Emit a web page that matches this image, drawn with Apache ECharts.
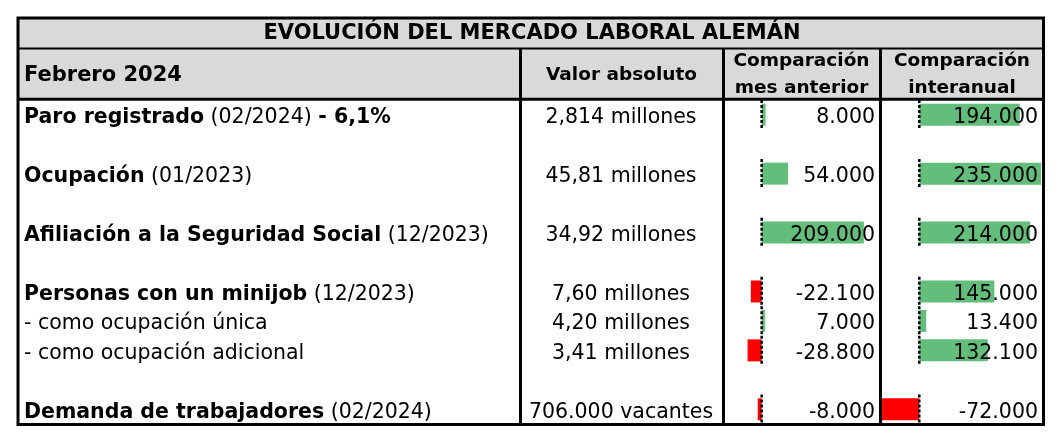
<!DOCTYPE html>
<html>
<head>
<meta charset="utf-8">
<title>Evolución del mercado laboral alemán</title>
<script src="https://cdn.jsdelivr.net/npm/echarts@6/dist/echarts.min.js"></script>
<style>
  html, body { margin: 0; padding: 0; background: #fff; }
  #chart { width: 1062px; height: 445px; }
</style>
</head>
<body>
<div id="chart"></div>
<script>
const tableTitle = 'EVOLUCIÓN DEL MERCADO LABORAL ALEMÁN';
const periodLabel = 'Febrero 2024';
const columnHeaders = ['Valor absoluto', 'Comparación\nmes anterior', 'Comparación\ninteranual'];

// one entry per table row, null = empty spacer row
const rowLabels = ['Paro registrado', null, 'Ocupación', null, 'Afiliación a la Seguridad Social', null,
  'Personas con un minijob', '- como ocupación única', '- como ocupación adicional', null, 'Demanda de trabajadores'];
const rowPeriods = ['(02/2024)', null, '(01/2023)', null, '(12/2023)', null, '(12/2023)', null, null, null, '(02/2024)'];
const rowNotes = ['- 6,1%', null, null, null, null, null, null, null, null, null, null];
const absoluteValues = ['2,814 millones', null, '45,81 millones', null, '34,92 millones', null,
  '7,60 millones', '4,20 millones', '3,41 millones', null, '706.000 vacantes'];
const monthChange = [8000, null, 54000, null, 209000, null, -22100, 7000, -28800, null, -8000];
const yearChange = [194000, null, 235000, null, 214000, null, 145000, 13400, 132100, null, -72000];

const FONT = '"DejaVu Sans", Verdana, sans-serif';
const GREEN = '#63BE7B';
const RED = '#FF0000';

const rowKeys = rowLabels.map((_, i) => 'r' + i);

const fmtNum = v => (v < 0 ? '-' : '') + String(Math.abs(v)).replace(/\B(?=(\d{3})+(?!\d))/g, '.');

const chart = echarts.init(document.getElementById('chart'));

const gridBase = { top: 100, bottom: 21 };
const hiddenX = (idx, min, max) => ({
  type: 'value', gridIndex: idx, min, max, show: false
});
const baseY = idx => ({
  type: 'category', gridIndex: idx, data: rowKeys, inverse: true,
  axisLine: { show: false }, axisTick: { show: false }, splitLine: { show: false }
});
// text sits a little below the bar centre, like Excel's bottom aligned cells
const labelStyle = { fontSize: 20.5, fontFamily: FONT, color: '#000', interval: 0, padding: [6, 0, 0, 0] };
const richText = {
  b: { fontSize: 20.5, fontFamily: FONT, fontWeight: 'bold', color: '#000' },
  n: { fontSize: 20.5, fontFamily: FONT, color: '#000' }
};
const plain = s => (s ? '{n|' + s + '}' : '');

const axisMarker = (values, idx) => ({
  type: 'custom',
  xAxisIndex: idx,
  yAxisIndex: idx,
  z: 5,
  data: values.map((v, i) => (v === null ? null : [0, i])).filter(d => d),
  encode: { x: 0, y: 1 },
  renderItem: (params, api) => {
    const p = api.coord([0, api.value(1)]);
    const h = api.size([0, 1])[1];
    return {
      type: 'line',
      shape: { x1: p[0], y1: p[1] - h / 2, x2: p[0], y2: p[1] + h / 2 },
      style: { stroke: '#000', lineWidth: 2.5, lineDash: [3, 2] }
    };
  }
});

const changeBars = (values, idx) => ({
  type: 'bar',
  xAxisIndex: idx,
  yAxisIndex: idx,
  barWidth: 22,
  data: values.map(v => (v === null ? null : {
    value: v,
    itemStyle: { color: v < 0 ? RED : GREEN }
  }))
});

const headerCenters = [621.5, 801.5, 962];

chart.setOption({
  animation: false,
  backgroundColor: '#fff',
  grid: [
    { ...gridBase, left: 19, width: 501 },
    { ...gridBase, left: 522, width: 201 },
    { ...gridBase, left: 725, width: 154 },
    { ...gridBase, left: 882, width: 159 }
  ],
  xAxis: [
    hiddenX(0, -1, 1),
    hiddenX(1, -1, 1),
    hiddenX(2, -75000, 240000),
    hiddenX(3, -72000, 235000)
  ],
  yAxis: [
    {
      ...baseY(0), position: 'left', z: 10,
      axisLabel: {
        ...labelStyle, inside: true, margin: 5, rich: richText,
        formatter: (v, i) => {
          const label = rowLabels[i];
          if (!label) return '';
          if (!rowPeriods[i]) return plain(label);
          let s = '{b|' + label + '} {n|' + rowPeriods[i] + '}';
          if (rowNotes[i]) s += ' {b|' + rowNotes[i] + '}';
          return s;
        }
      }
    },
    {
      ...baseY(1), position: 'left', z: 10,
      axisLabel: {
        ...labelStyle, inside: true, margin: 99, align: 'center', rich: richText,
        formatter: (v, i) => plain(absoluteValues[i])
      }
    },
    {
      ...baseY(2), position: 'right', z: 10,
      axisLabel: {
        ...labelStyle, inside: true, margin: 4, rich: richText,
        formatter: (v, i) => (monthChange[i] === null ? '' : plain(fmtNum(monthChange[i])))
      }
    },
    {
      ...baseY(3), position: 'right', z: 10,
      axisLabel: {
        ...labelStyle, inside: true, margin: 3, rich: richText,
        formatter: (v, i) => (yearChange[i] === null ? '' : plain(fmtNum(yearChange[i])))
      }
    }
  ],
  series: [
    changeBars(monthChange, 2),
    axisMarker(monthChange, 2),
    changeBars(yearChange, 3),
    axisMarker(yearChange, 3)
  ],
  graphic: [
    { type: 'rect', z: -10, shape: { x: 18, y: 18, width: 1025, height: 81 }, style: { fill: '#D9D9D9' } },
    {
      type: 'text', z: 100, x: 532, y: 34,
      style: { text: tableTitle, font: 'bold 21px ' + FONT, fill: '#000',
        align: 'center', verticalAlign: 'middle', textAlign: 'center', textVerticalAlign: 'middle' }
    },
    {
      type: 'text', z: 100, x: 24, y: 76,
      style: { text: periodLabel, font: 'bold 21px ' + FONT, fill: '#000',
        align: 'left', verticalAlign: 'middle', textAlign: 'left', textVerticalAlign: 'middle' }
    },
    ...columnHeaders.map((h, i) => ({
      type: 'text', z: 100, x: headerCenters[i], y: 75,
      style: { text: h, font: 'bold 18.5px ' + FONT, fill: '#000', lineHeight: 27,
        align: 'center', verticalAlign: 'middle', textAlign: 'center', textVerticalAlign: 'middle' }
    })),
    { type: 'rect', z: 100, shape: { x: 18, y: 18, width: 1025.5, height: 406.5 }, style: { fill: null, stroke: '#000', lineWidth: 3 } },
    { type: 'line', z: 100, shape: { x1: 18, y1: 48.5, x2: 1043, y2: 48.5 }, style: { stroke: '#000', lineWidth: 2 } },
    { type: 'line', z: 100, shape: { x1: 18, y1: 99.2, x2: 1043, y2: 99.2 }, style: { stroke: '#000', lineWidth: 3 } },
    ...[520.5, 723.5, 880.5].map(x => ({
      type: 'line', z: 100, shape: { x1: x, y1: 48, x2: x, y2: 424.5 }, style: { stroke: '#000', lineWidth: 3 }
    }))
  ]
});

window.addEventListener('resize', () => chart.resize());
</script>
</body>
</html>
